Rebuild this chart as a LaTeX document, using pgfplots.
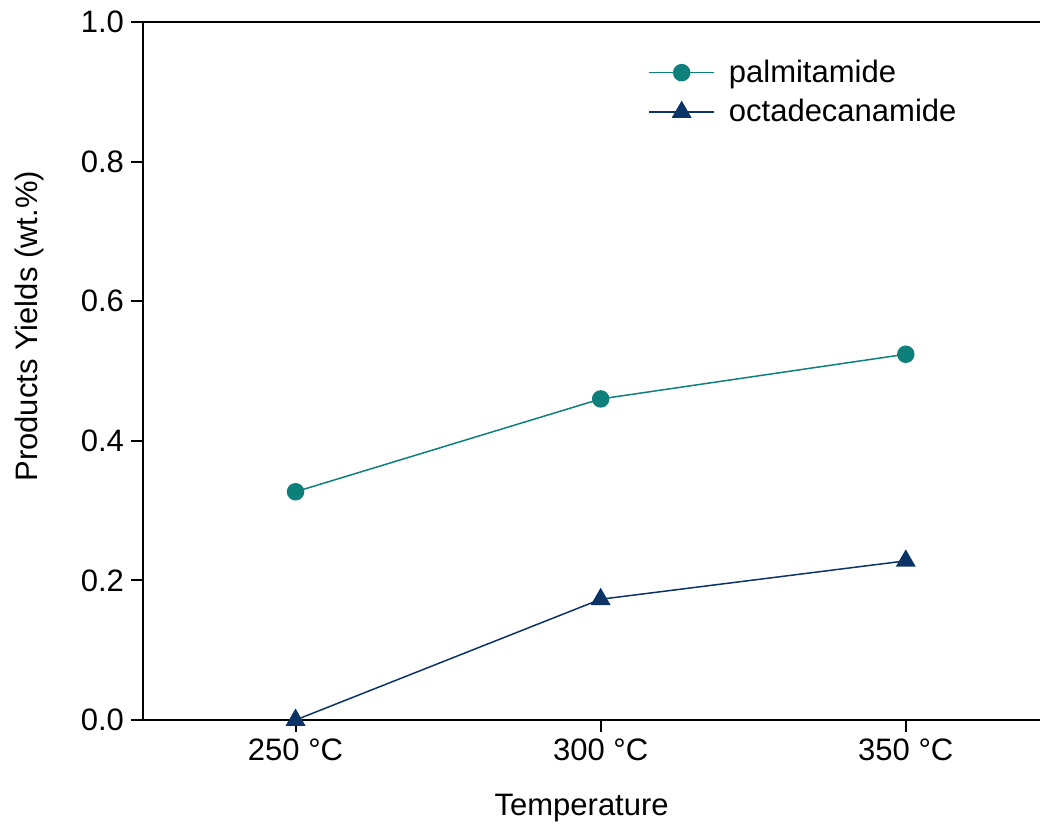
\documentclass[border=0pt]{standalone}
\usepackage{pgfplots}
\pgfplotsset{compat=1.18}
\usepackage{fontspec}
\setmainfont{Liberation Sans}

\definecolor{palmcol}{HTML}{0E807C}
\definecolor{octacol}{HTML}{0B3366}

\begin{document}
\begin{tikzpicture}
\useasboundingbox (0,0) rectangle (521pt,413.5pt);
\begin{axis}[
  at={(71.5pt,53.5pt)}, anchor=south west,
  width=448.5pt, height=349pt, scale only axis,
  font=\fontsize{15.5}{18.6}\selectfont,
  /pgf/number format/assume math mode=true,
  axis x line*=box, axis y line*=left,
  axis line style={line width=1.3pt, -},
  xtick pos=bottom, ytick pos=left,
  tick align=outside, major tick length=6pt,
  tick style={black, line width=1pt},
  xmin=-0.5, xmax=2.44, ymin=0, ymax=1.0,
  xtick={0,1,2}, xticklabels={250 °C, 300 °C, 350 °C},
  ytick={0,0.2,0.4,0.6,0.8,1.0},
  yticklabel style={/pgf/number format/.cd, fixed, fixed zerofill, precision=1},
  xlabel={Temperature},
  ylabel={Products Yields (wt.\%)},
  xlabel style={at={(axis description cs:0.489,-0.126)}, anchor=center},
  ylabel style={at={(axis description cs:-0.126,0.564)}, anchor=center, rotate=0},
  legend style={at={(axis description cs:0.563,0.952)}, anchor=north west,
    draw=none, fill=none, inner sep=0pt, row sep=3pt,
    font=\fontsize{15.5}{18.6}\selectfont},
  legend cell align=left,
  legend image code/.code={\draw[mark repeat=2, mark phase=2, #1]
    plot coordinates {(0pt,0pt) (16.25pt,0pt) (32.5pt,0pt)};},
  clip=false,
]
\addplot[color=palmcol, line width=0.75pt, mark=*, mark size=4pt,
  mark options={fill=palmcol, draw=palmcol}]
  coordinates {(0,0.327) (1,0.460) (2,0.524)};
\addlegendentry{\hspace{5pt}palmitamide}
\addplot[color=octacol, line width=0.75pt, mark=triangle*, mark size=5pt,
  mark options={fill=octacol, draw=octacol}]
  coordinates {(0,0.0) (1,0.173) (2,0.228)};
\addlegendentry{\hspace{5pt}octadecanamide}
\end{axis}
\end{tikzpicture}
\end{document}
